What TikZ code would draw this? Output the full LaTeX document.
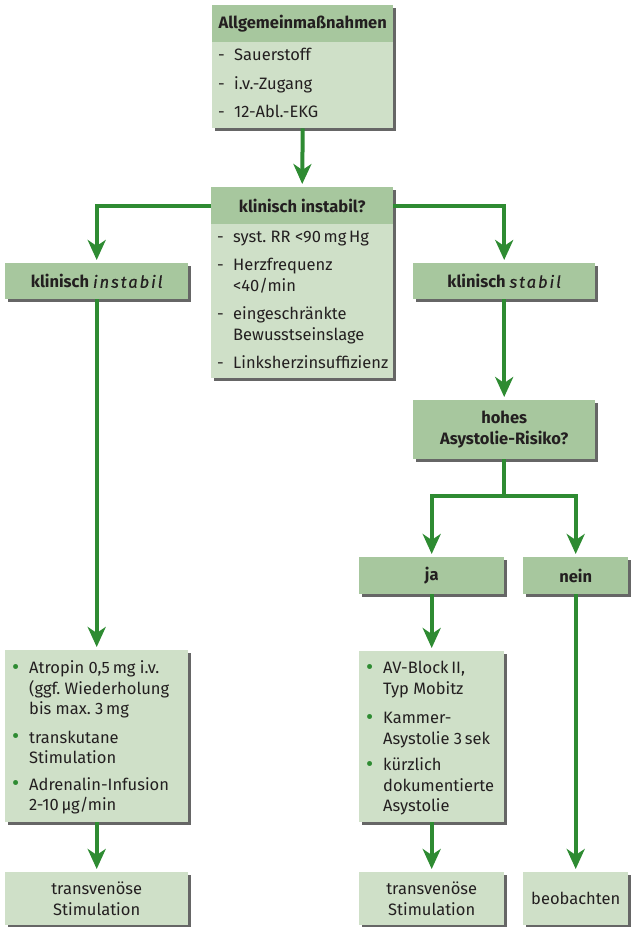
\documentclass[tikz,border=0pt]{standalone}
\usepackage{fontspec}
\setmainfont{Fira Sans}
\usetikzlibrary{arrows.meta,shadows,calc}

\definecolor{hdr}{HTML}{A7C79E}
\definecolor{bdy}{HTML}{CFE0C8}
\definecolor{flow}{HTML}{2E8B32}
\definecolor{ink}{HTML}{231F20}

% spaced italic for the emphasised words in the headers
\newcommand{\spit}[1]{{\mdseries\itshape\addfontfeature{LetterSpace=12,FakeBold=0.6}#1}}
% list markers
\newcommand{\dsh}{\makebox[16pt][l]{-}}
\newcommand{\bul}{\makebox[17pt][l]{\raisebox{-0.6pt}{\textcolor{flow}{\fontsize{22}{22}\selectfont\textbullet}}}}

\tikzset{
  panel/.style={fill=bdy, draw=none, inner sep=0pt, anchor=north west,
    drop shadow={shadow xshift=3pt, shadow yshift=-3pt, fill=black!80, opacity=0.75}},
  hpanel/.style={panel, fill=hdr, font=\fontsize{16.5}{21}\selectfont\bfseries,
    text=ink, align=center},
  head/.style={fill=hdr, draw=none, inner sep=0pt, anchor=north west,
    text=ink, font=\fontsize{16.5}{21}\selectfont\bfseries},
  txt/.style={anchor=north west, inner sep=0pt, text=ink,
    font=\fontsize{16.5}{21}\selectfont},
  ctxt/.style={panel, text=ink, align=center, font=\fontsize{16.5}{21}\selectfont},
  flow/.style={draw=flow, line width=4pt,
    -{Stealth[length=20pt,width=18pt,inset=6pt]}, shorten >=3pt},
  plain/.style={draw=flow, line width=4pt}
}

\begin{document}
\begin{tikzpicture}[x=1pt,y=-1pt]
\useasboundingbox (0,0) rectangle (630,927);

% general measures
\node[panel, minimum width=181pt, minimum height=123pt] (A) at (212,5) {};
\node[head, minimum width=181pt, minimum height=37pt] (Ah) at (A.north west) {Allgemeinmaßnahmen};
\node[txt] (At) at ($(A.north west)+(6,41)$) {%
  \begin{tabular}{@{}l@{}}
  \dsh Sauerstoff\\[7.5pt]
  \dsh i.v.-Zugang\\[7.5pt]
  \dsh 12-Abl.-EKG
  \end{tabular}};

% clinically unstable?
\node[panel, minimum width=182pt, minimum height=191pt] (B) at (211,187) {};
\node[head, minimum width=182pt, minimum height=37pt] (Bh) at (B.north west) {klinisch instabil?};
\node[txt] (Bt) at ($(B.north west)+(6,41)$) {%
  \begin{tabular}{@{}l@{}l@{}}
  \dsh & syst.\ RR <90\,mg\,Hg\\[7pt]
  \dsh & Herzfrequenz\\
       & <40/min\\[7pt]
  \dsh & eingeschränkte\\
       & Bewusstseinslage\\[7pt]
  \dsh & Linksherzinsuffizienz
  \end{tabular}};

% branch headers
\node[hpanel, minimum width=183pt, minimum height=36pt] (L1) at (5,263) {klinisch \spit{instabil}};
\node[hpanel, minimum width=182pt, minimum height=36pt] (R1) at (413,263) {klinisch \spit{stabil}};
\node[hpanel, minimum width=182pt, minimum height=59pt] (R2) at (413,400) {hohes\\Asystolie-Risiko?};
\node[hpanel, minimum width=145pt, minimum height=37pt] (J) at (359,557) {ja};
\node[hpanel, minimum width=105pt, minimum height=37pt] (N) at (523,557) {nein};

% therapy lists
\node[panel, minimum width=183pt, minimum height=172pt] (L2) at (5,650) {};
\node[txt] (L2t) at ($(L2.north west)+(7,9)$) {%
  \fontsize{16.5}{20.5}\selectfont
  \begin{tabular}{@{}l@{}l@{}}
  \bul & Atropin 0,5\,mg i.v.\\
       & (ggf.\ Wiederholung\\
       & bis max.\ 3\,mg\\[8pt]
  \bul & transkutane\\
       & Stimulation\\[6pt]
  \bul & Adrenalin-Infusion\\
       & 2-10\,µg/min
  \end{tabular}};

\node[panel, minimum width=145pt, minimum height=171pt] (J2) at (359,651) {};
\node[txt] (J2t) at ($(J2.north west)+(7,8)$) {%
  \fontsize{16.5}{20.5}\selectfont
  \begin{tabular}{@{}l@{}l@{}}
  \bul & AV-Block\,II,\\
       & Typ Mobitz\\[9pt]
  \bul & Kammer-\\
       & Asystolie 3\,sek\\[6pt]
  \bul & kürzlich\\
       & dokumentierte\\
       & Asystolie
  \end{tabular}};

% final actions
\node[ctxt, minimum width=183pt, minimum height=53pt] (L3) at (5,872) {transvenöse\\Stimulation};
\node[ctxt, minimum width=145pt, minimum height=53pt] (J3) at (359,872) {transvenöse\\Stimulation};
\node[ctxt, minimum width=105pt, minimum height=53pt] (N3) at (523,872) {beobachten};

% connectors
\draw[flow] (A.south) -- (B.north);
\draw[flow] (Bh.west) -| (L1.north);
\draw[flow] (Bh.east) -| (R1.north);
\draw[flow] (L1.south) -- (L2.north);
\draw[flow] (R1.south) -- (R2.north);
\coordinate (fork) at ($(R2.south)+(0,37)$);
\draw[plain] (R2.south) -- (fork);
\draw[flow] (fork) -| (J.north);
\draw[flow] (fork) -| (N.north);
\draw[flow] (J.south) -- (J2.north);
\draw[flow] (N.south) -- (N3.north);
\draw[flow] (L2.south) -- (L3.north);
\draw[flow] (J2.south) -- (J3.north);
\end{tikzpicture}
\end{document}
